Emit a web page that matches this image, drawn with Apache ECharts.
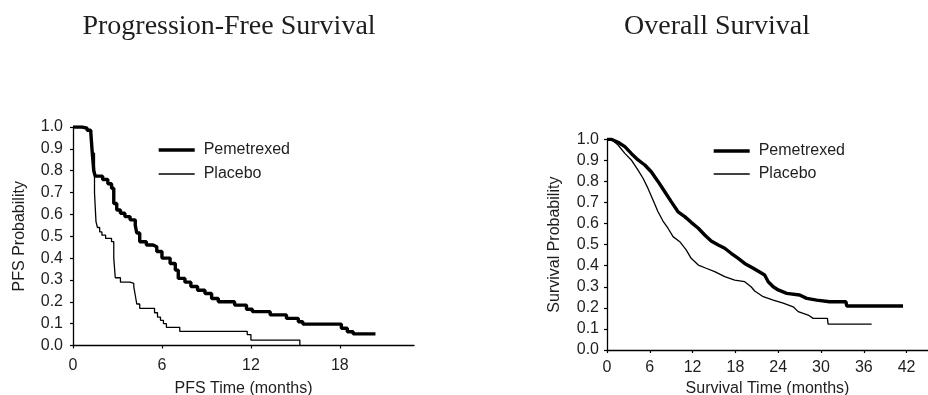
<!DOCTYPE html>
<html>
<head>
<meta charset="utf-8">
<title>PFS and OS</title>
<script src="https://cdn.jsdelivr.net/npm/echarts@6.0.0/dist/echarts.min.js"></script>
<style>
  html, body { margin: 0; padding: 0; background: #fff; }
  #main { width: 928px; height: 395px; }
</style>
</head>
<body>
<div id="main"></div>
<script>
// values: [months, probability]
const pfsPemetrexed = [
  [0, 1.0], [0.6, 0.995], [0.95, 0.985], [1.2, 0.975], [1.3, 0.88], [1.4, 0.80], [1.5, 0.775],
  [2.0, 0.76], [2.35, 0.74], [2.6, 0.72], [2.75, 0.65], [2.95, 0.62], [3.2, 0.605], [3.5, 0.59],
  [3.85, 0.575], [4.2, 0.55], [4.3, 0.515], [4.5, 0.475], [4.95, 0.46], [5.4, 0.452], [5.65, 0.43],
  [6.0, 0.40], [6.55, 0.375], [6.9, 0.345], [7.1, 0.307], [7.55, 0.29], [7.95, 0.27], [8.4, 0.253],
  [8.9, 0.238], [9.35, 0.215], [9.8, 0.20], [10.9, 0.185], [11.7, 0.166], [12.1, 0.155], [13.3, 0.14],
  [14.4, 0.124], [15.2, 0.109], [15.5, 0.098], [18.1, 0.079], [18.5, 0.063], [18.9, 0.053], [20.4, 0.053]
];
const pfsPlacebo = [
  [0, 1.0], [0.6, 0.995], [0.95, 0.985], [1.2, 0.975], [1.3, 0.88], [1.45, 0.70], [1.55, 0.567],
  [1.65, 0.54], [1.8, 0.52], [1.95, 0.505], [2.2, 0.49], [2.6, 0.475], [2.75, 0.40], [2.85, 0.31],
  [3.2, 0.29], [3.85, 0.284], [4.1, 0.268], [4.2, 0.23], [4.3, 0.19], [4.5, 0.17], [5.5, 0.15],
  [5.7, 0.13], [5.9, 0.115], [6.1, 0.10], [6.3, 0.083], [7.2, 0.065], [11.75, 0.05], [12.0, 0.025],
  [15.3, 0.0]
];
// OS curves have many tiny steps, so they are read as a dense trace (corners kept in the tail)
const osPemetrexed = [
  [0, 1.0], [0.6, 1.0], [1.55, 0.986], [2.5, 0.965], [3.4, 0.933], [4.35, 0.902], [5.3, 0.878],
  [6.2, 0.846], [7.15, 0.80], [8.1, 0.751], [9.0, 0.704], [9.96, 0.656], [10.9, 0.633], [11.8, 0.606],
  [12.8, 0.578], [13.7, 0.546], [14.6, 0.517], [15.6, 0.498], [16.5, 0.483], [17.4, 0.459],
  [18.4, 0.435], [19.3, 0.411], [20.5, 0.388], [21.4, 0.37], [22.1, 0.356], [22.6, 0.324],
  [23.3, 0.30], [24.0, 0.285], [25.2, 0.269], [27.0, 0.261], [28.0, 0.245], [29.4, 0.237],
  [31.2, 0.229], [33.5, 0.229], [33.6, 0.209], [41.5, 0.209]
];
const osPlacebo = [
  [0, 1.0], [0.6, 1.0], [1.55, 0.973], [2.5, 0.933], [3.4, 0.902], [4.35, 0.854], [5.05, 0.815],
  [5.75, 0.767], [6.45, 0.712], [7.15, 0.656], [7.85, 0.612], [8.55, 0.578], [9.26, 0.538],
  [10.2, 0.514], [11.1, 0.475], [11.8, 0.435], [12.8, 0.403], [13.9, 0.388], [15.1, 0.372],
  [16.5, 0.348], [17.9, 0.332], [19.3, 0.324], [20.2, 0.30], [20.7, 0.28], [21.9, 0.253],
  [23.3, 0.237], [24.7, 0.222], [26.1, 0.205], [26.8, 0.182], [28.2, 0.166], [28.9, 0.15],
  [30.9, 0.15], [31.0, 0.123], [37.1, 0.123]
];

const pfsTicks = [0, 6, 12, 18];
const osTicks = [0, 6, 12, 18, 24, 30, 36, 42];
const seriesNames = ['Pemetrexed', 'Placebo'];
const titles = ['Progression-Free Survival', 'Overall Survival'];
const axisNames = {
  pfsX: 'PFS Time (months)',
  pfsY: 'PFS Probability',
  osX: 'Survival Time (months)',
  osY: 'Survival Probability'
};

const config = {
  sans: '"Liberation Sans", Arial, sans-serif',
  serif: '"Liberation Serif", "Times New Roman", serif',
  ink: '#1e1e1e',
  thick: 3.4,
  thin: 1.3
};

const labelStyle = { fontFamily: config.sans, fontSize: 16, color: config.ink };

function xAxis (gridIndex, max, ticks, name, gap, margin) {
  return {
    type: 'value',
    gridIndex: gridIndex,
    min: 0,
    max: max,
    interval: 6,
    name: name,
    nameLocation: 'middle',
    nameGap: gap,
    nameTextStyle: labelStyle,
    axisLine: { show: true, onZero: false, lineStyle: { color: '#000', width: 1.3 } },
    axisTick: { show: true, length: 3, customValues: ticks, lineStyle: { color: '#000', width: 1.2 } },
    axisLabel: Object.assign({ margin: margin, customValues: ticks }, labelStyle),
    splitLine: { show: false }
  };
}

function yAxis (gridIndex, name, gap, margin) {
  return {
    type: 'value',
    gridIndex: gridIndex,
    min: 0,
    max: 1,
    interval: 0.1,
    name: name,
    nameLocation: 'middle',
    nameGap: gap,
    nameRotate: 90,
    nameTextStyle: labelStyle,
    axisLine: { show: true, onZero: false, lineStyle: { color: '#000', width: 1.3 } },
    axisTick: { show: true, length: 3, lineStyle: { color: '#000', width: 1.2 } },
    axisLabel: Object.assign({ margin: margin, formatter: v => v.toFixed(1) }, labelStyle),
    splitLine: { show: false }
  };
}

function curve (name, data, width, idx, step) {
  return {
    name: name,
    type: 'line',
    xAxisIndex: idx,
    yAxisIndex: idx,
    step: step,
    data: data,
    symbol: 'none',
    silent: true,
    animation: false,
    lineStyle: { color: '#000', width: width },
    itemStyle: { color: '#000' }
  };
}

function legend (left, top, gap) {
  return {
    orient: 'vertical',
    left: left,
    top: top,
    itemWidth: 36,
    itemHeight: 14,
    itemGap: gap,
    padding: 0,
    selectedMode: false,
    itemStyle: { opacity: 0 },
    lineStyle: { width: 'inherit' },
    textStyle: Object.assign({ padding: [0, 0, 0, 4] }, labelStyle),
    data: seriesNames
  };
}

const chart = echarts.init(document.getElementById('main'), null, { renderer: 'canvas' });

chart.setOption({
  backgroundColor: '#fff',
  animation: false,
  title: [
    { text: titles[0], left: 229, top: 13, textAlign: 'center', padding: 0,
      textStyle: { fontFamily: config.serif, fontSize: 28, fontWeight: 'normal', color: config.ink } },
    { text: titles[1], left: 717, top: 13, textAlign: 'center', padding: 0,
      textStyle: { fontFamily: config.serif, fontSize: 28, fontWeight: 'normal', color: config.ink } }
  ],
  legend: [legend(157, 142, 8), legend(712, 143, 7)],
  grid: [
    { left: 73, top: 127, width: 341, height: 218.5, outerBoundsMode: 'none' },
    { left: 607, top: 139.3, width: 321, height: 210.7, outerBoundsMode: 'none' }
  ],
  xAxis: [
    xAxis(0, 23, pfsTicks, axisNames.pfsX, 35, 12),
    xAxis(1, 45, osTicks, axisNames.osX, 30, 10)
  ],
  yAxis: [
    yAxis(0, axisNames.pfsY, 45, 10),
    yAxis(1, axisNames.osY, 44, 8)
  ],
  series: [
    curve(seriesNames[1], pfsPlacebo, config.thin, 0, 'end'),
    curve(seriesNames[0], pfsPemetrexed, config.thick, 0, 'end'),
    curve(seriesNames[1], osPlacebo, config.thin, 1, false),
    curve(seriesNames[0], osPemetrexed, config.thick, 1, false)
  ]
});
</script>
</body>
</html>
